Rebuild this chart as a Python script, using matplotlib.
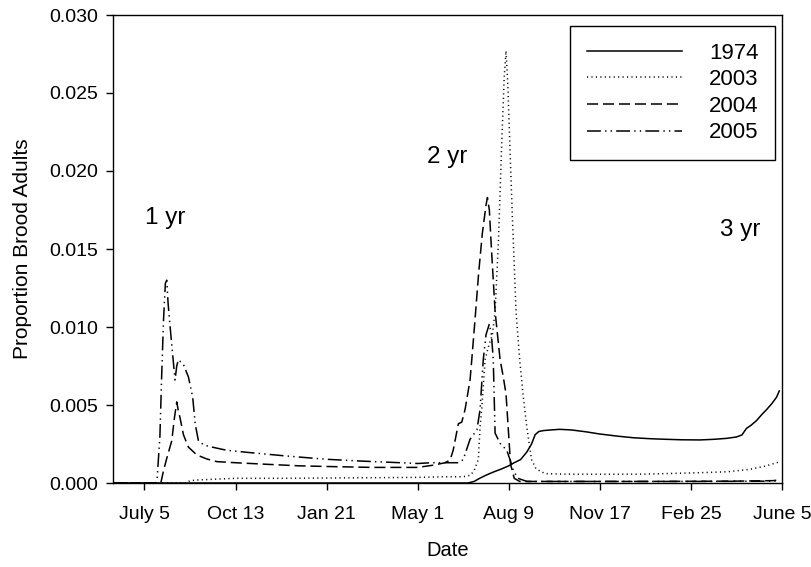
import matplotlib
matplotlib.use("Agg")
import matplotlib.pyplot as plt

plt.rcParams['font.family'] = ['Liberation Sans', 'DejaVu Sans']
plt.rcParams['lines.scale_dashes'] = False

# x: days after July 5 (year 1)
tick_days = [0, 100, 200, 300, 400, 500, 600, 700]
tick_labels = ["July 5", "Oct 13", "Jan 21", "May 1", "Aug 9", "Nov 17", "Feb 25", "June 5"]

x_1974 = [-34, 355, 362, 368, 375, 383, 392, 400, 406, 413, 420, 425, 429, 433, 438, 446, 456,
          469, 485, 500, 520, 537, 555, 573, 590, 610, 625, 639, 650, 656, 661, 666, 672, 678,
          683, 689, 694, 697]
y_1974 = [0, 0, 0.0001, 0.0003, 0.0005, 0.0007, 0.0009, 0.0011, 0.0013, 0.0015, 0.002, 0.0025,
          0.0031, 0.0033, 0.00336, 0.0034, 0.00344, 0.0034, 0.00328, 0.00314, 0.003, 0.0029,
          0.00284, 0.0028, 0.00277, 0.00276, 0.0028, 0.00286, 0.00295, 0.00308, 0.0035, 0.0037,
          0.004, 0.0044, 0.0047, 0.0051, 0.0055, 0.0059]

x_2003 = [-34, 45, 50, 60, 80, 100, 150, 200, 250, 300, 330, 350, 358, 362, 366.6, 368.5, 370.3,
          374, 378, 382, 385, 388.6, 392.3, 395, 397, 399, 401, 404, 408, 412, 416, 420, 425, 430,
          440, 460, 500, 550, 610, 640, 665, 683, 694, 697]
y_2003 = [0, 0, 0.00015, 0.0002, 0.00025, 0.0003, 0.0003, 0.00032, 0.00034, 0.00036, 0.0004,
          0.0004, 0.0005, 0.0008, 0.0015, 0.0036, 0.0047, 0.0079, 0.0088, 0.0095, 0.011, 0.0154,
          0.0218, 0.026, 0.0277, 0.0255, 0.022, 0.017, 0.011, 0.0079, 0.0055, 0.0035, 0.0015,
          0.0009, 0.0006, 0.00057, 0.00056, 0.00057, 0.00066, 0.00072, 0.00088, 0.0011, 0.0013,
          0.00135]

x_2004 = [-34, 18, 21, 24.6, 30, 33, 35.5, 37, 39, 42.8, 48.3, 57.5, 68.5, 79.5, 100, 134, 170,
          207, 250, 281, 300, 318, 330, 335.6, 339, 344.7, 348.4, 352, 357.5, 359.4, 363, 367, 371,
          375, 376.6, 378.7, 381, 385, 390.5, 394, 397, 400, 402, 406, 412, 450, 550, 650, 690, 697]
y_2004 = [0, 0, 0.0008, 0.0016, 0.0027, 0.0042, 0.0052, 0.0047, 0.0042, 0.0031, 0.0023, 0.0018,
          0.00154, 0.00137, 0.0013, 0.0012, 0.0011, 0.00105, 0.001, 0.001, 0.001, 0.00115, 0.0013,
          0.00147, 0.0021, 0.0038, 0.0039, 0.0047, 0.0066, 0.0079, 0.0105, 0.0135, 0.016, 0.0178,
          0.0183, 0.0175, 0.015, 0.011, 0.0079, 0.0068, 0.0057, 0.003, 0.0012, 0.0003, 0.0001,
          0.0001, 0.0001, 0.00012, 0.00015, 0.0002]

x_2005 = [-34, 12, 14, 17, 19, 21, 23, 24.5, 26, 29, 33.6, 35.5, 37.3, 42.8, 48.3, 53, 55.7, 59.3,
          61, 64.8, 72, 90, 112, 156, 200, 240, 281, 300, 315, 330, 345, 350, 357.5, 365, 368.5,
          372, 375, 378.7, 381, 383, 385, 390.5, 397.8, 401.4, 405, 410, 420, 500, 600, 690, 697]
y_2005 = [0, 0, 0.0003, 0.003, 0.007, 0.0105, 0.0128, 0.013, 0.0115, 0.0095, 0.0066, 0.0075,
          0.0079, 0.0076, 0.0068, 0.0055, 0.0038, 0.0027, 0.00265, 0.00244, 0.00233, 0.0021,
          0.00197, 0.00173, 0.00152, 0.0014, 0.0013, 0.00125, 0.0013, 0.0013, 0.0013, 0.0015,
          0.0028, 0.0034, 0.0047, 0.0079, 0.0095, 0.0102, 0.0095, 0.0079, 0.0032, 0.00254, 0.0021,
          0.0015, 0.0008, 0.0003, 0.0001, 0.0001, 0.0001, 0.00012, 0.00015]

annotations = [("1 yr", 23, 0.0170), ("2 yr", 332, 0.0209), ("3 yr", 654, 0.0162)]

fig = plt.figure(figsize=(8.12, 5.67), dpi=100)
ax = fig.add_axes([113/812, 1 - 483/567, 669/812, 468/567])

lw = 1.1
ax.plot(x_1974, y_1974, color='black', lw=lw, linestyle='-', label='1974')
ax.plot(x_2003, y_2003, color='black', lw=lw, linestyle=(0, (0.8, 2.4)), label='2003')
ax.plot(x_2004, y_2004, color='black', lw=lw, linestyle=(0, (8, 3.5)), label='2004')
ax.plot(x_2005, y_2005, color='black', lw=lw, linestyle=(0, (10, 3, 1, 3, 1, 3)), label='2005')

ax.set_xlim(-34.5, 700)
ax.set_ylim(0, 0.030)
ax.set_xticks(tick_days)
ax.set_xticklabels(tick_labels)
ax.set_yticks([0, 0.005, 0.010, 0.015, 0.020, 0.025, 0.030])
ax.set_yticklabels(["0.000", "0.005", "0.010", "0.015", "0.020", "0.025", "0.030"])
ax.tick_params(axis='both', direction='out', length=5, width=1, labelsize=14)
ax.tick_params(axis='x', pad=11.5)
ax.tick_params(axis='y', pad=6)
for s in ax.spines.values():
    s.set_linewidth(1.0)

ax.set_xlabel("Date", fontsize=14.5, labelpad=13)
ax.set_ylabel("Proportion Brood Adults", fontsize=15, labelpad=12)

for txt, xd, yv in annotations:
    ax.text(xd, yv, txt, fontsize=17.5, ha='center', va='center')

leg = ax.legend(loc='upper right', bbox_to_anchor=(0.9895, 0.9765), borderaxespad=0,
                fontsize=16, frameon=True, fancybox=False, edgecolor='black', framealpha=1,
                handlelength=4.3, handletextpad=1.2, borderpad=0.75, labelspacing=0.25)
leg.get_frame().set_linewidth(1.0)

fig.savefig("out.png", dpi=100)
